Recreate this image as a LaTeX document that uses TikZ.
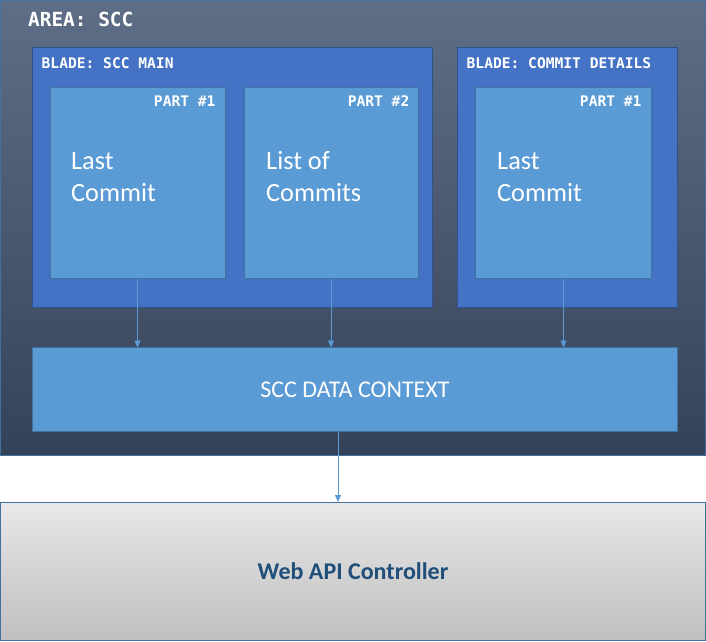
\documentclass[tikz,border=0pt]{standalone}
\usepackage{fontspec}
\setmainfont{Carlito}
\newfontfamily\monofont{DejaVu Sans Mono}
\usetikzlibrary{arrows.meta}
\definecolor{areatop}{HTML}{5F6E87}
\definecolor{areabot}{HTML}{344259}
\definecolor{bladefill}{HTML}{4472C4}
\definecolor{bladeline}{HTML}{2F528F}
\definecolor{partfill}{HTML}{5B9BD5}
\definecolor{partline}{HTML}{41719C}
\definecolor{apitop}{HTML}{E8E8E8}
\definecolor{apibot}{HTML}{BFBFBF}
\definecolor{apitext}{HTML}{1F4E79}
\begin{document}
\begin{tikzpicture}[x=1pt,y=-1pt,
  boxbase/.style={rectangle, inner sep=0pt, outer sep=0pt, anchor=north west, line width=0.8pt},
  areabox/.style={boxbase, draw=partline, top color=areatop, bottom color=areabot},
  bladebox/.style={boxbase, draw=bladeline, fill=bladefill},
  partbox/.style={boxbase, draw=partline, fill=partfill},
  apibox/.style={boxbase, draw=partline, top color=apitop, bottom color=apibot},
  areatitle/.style={inner sep=0pt, anchor=base west, text=white, font=\monofont\bfseries\fontsize{19.4}{22}\selectfont},
  bladetitle/.style={inner sep=0pt, anchor=base west, text=white, font=\monofont\bfseries\fontsize{14.6}{17}\selectfont},
  parttitle/.style={inner sep=0pt, anchor=base east, text=white, font=\monofont\bfseries\fontsize{14.6}{17}\selectfont},
  bigtext/.style={inner sep=0pt, anchor=base west, text=white, font=\fontsize{26.3}{32}\selectfont},
  conn/.style={draw=partfill, line width=0.8pt, -{Triangle[width=6pt,length=7pt]}}
]
\useasboundingbox (0,0) rectangle (706,641);

% area
\node[areabox, minimum width=705pt, minimum height=455pt] (area) at (0.5,0.5) {};
\node[areatitle] (areat) at (28,26.5) {AREA: SCC};

% blades
\node[bladebox, minimum width=400pt, minimum height=260pt] (bmain) at (32.5,47.5) {};
\node[bladetitle] (bmaint) at (41.5,68.3) {BLADE: SCC MAIN};
\node[bladebox, minimum width=220pt, minimum height=260pt] (bdet) at (457.5,47.5) {};
\node[bladetitle] (bdett) at (466.5,68.3) {BLADE: COMMIT DETAILS};

% parts
\node[partbox, minimum width=175pt, minimum height=191pt] (p1) at (50,87.5) {};
\node[parttitle] (p1t) at (215.7,106) {PART \#1};
\node[bigtext] (p1a) at (71,169) {Last};
\node[bigtext] (p1b) at (71,201) {Commit};

\node[partbox, minimum width=174pt, minimum height=191pt] (p2) at (244,87.5) {};
\node[parttitle] (p2t) at (409.5,106) {PART \#2};
\node[bigtext] (p2a) at (266,169) {List of};
\node[bigtext] (p2b) at (266,201) {Commits};

\node[partbox, minimum width=176pt, minimum height=191pt] (p3) at (475.5,87.5) {};
\node[parttitle] (p3t) at (641.7,106) {PART \#1};
\node[bigtext] (p3a) at (497,169) {Last};
\node[bigtext] (p3b) at (497,201) {Commit};

% data context
\node[partbox, minimum width=645pt, minimum height=84pt, text=white, font=\fontsize{24}{28}\selectfont] (dc) at (32.5,347.5) {SCC DATA CONTEXT};

% web api
\node[apibox, minimum width=705pt, minimum height=138.5pt, text=apitext, font=\bfseries\fontsize{24}{28}\selectfont] (api) at (0.5,502) {Web API Controller};

% connectors
\draw[conn] (p1.south) -- (p1.south |- dc.north);
\draw[conn] (p2.south) -- (p2.south |- dc.north);
\draw[conn] (p3.south) -- (p3.south |- dc.north);
\coordinate (dcout) at (338,431.5);
\draw[conn] (dcout) -- (dcout |- api.north);
\end{tikzpicture}
\end{document}
